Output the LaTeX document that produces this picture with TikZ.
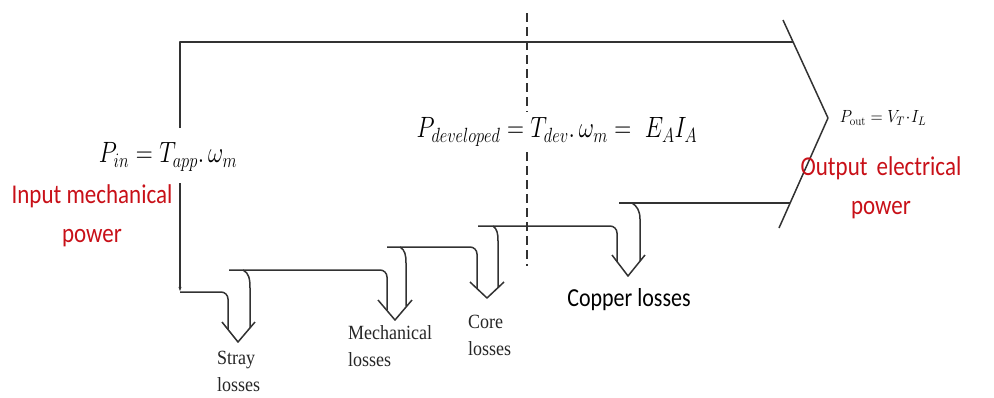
\RequirePackage{fix-cm}
\documentclass[tikz,border=0pt]{standalone}
\usepackage{fontspec}
\newfontfamily\calib{Carlito}
\newfontfamily\tms{Liberation Serif}
\usetikzlibrary{arrows.meta}
\definecolor{redtxt}{RGB}{200,16,24}
\definecolor{ln}{RGB}{50,50,50}
\newcommand{\vst}[2][1.18]{\scalebox{1}[#1]{#2}}
\tikzset{
  flow/.style={draw=ln, line width=1.5pt, line join=round},
  redlbl/.style={text=redtxt, font=\calib\fontsize{23}{39}\selectfont, align=center, inner sep=0pt},
  losslbl/.style={text=black!85, font=\tms\fontsize{18}{27}\selectfont, align=left, inner sep=0pt, anchor=north west},
  eqn/.style={font=\fontsize{23.5}{28}\selectfont, inner sep=0pt}
}
\begin{document}
\begin{tikzpicture}[x=1pt,y=-1pt]
\useasboundingbox (0,0) rectangle (994,397);
% input side and top of band
\draw[flow] (180,128) -- (180,42) -- (793,42);
\draw[flow, -{Stealth[length=4pt,width=3pt]}] (180,183) -- (180,291);
% stray losses
\draw[flow, rounded corners=7pt] (180,292) -- (228,292) -- (228,329);
\draw[flow] (243,270) .. controls (249,273) and (250,279) .. (250,288) -- (250,328);
\draw[flow] (222,322) -- (238,342) -- (255,322);
% mechanical losses
\draw[flow, rounded corners=7pt] (229,270) -- (387,270) -- (387,310);
\draw[flow] (400,247) .. controls (405,250) and (406,255) .. (406,263) -- (406,306);
\draw[flow] (378,300) -- (395,320) -- (412,300);
% core losses
\draw[flow, rounded corners=7pt] (387,247) -- (477,247) -- (477,289);
\draw[flow] (493,226) .. controls (497,229) and (498,233) .. (498,241) -- (498,288);
\draw[flow] (470,282) -- (487,298) -- (504,282);
% copper losses
\draw[flow, rounded corners=7pt] (478,226) -- (617,226) -- (617,262);
\draw[flow] (632,203) .. controls (637,206) and (640,211) .. (640,219) -- (640,261);
\draw[flow] (612,255) -- (628,276) -- (645,255);
% output band and chevron
\draw[flow] (619,203) -- (790,203);
\draw[flow] (783,20) -- (828,118) -- (779,228);
% dashed separator
\draw[draw=ln, line width=1.2pt, dash pattern=on 9pt off 5pt] (527,13) -- (527,112);
\draw[draw=ln, line width=1.2pt, dash pattern=on 9pt off 5pt] (527,152) -- (527,266);
% texts
\node[eqn] (pin) at (168,157) {\vst[1.25]{$P_{in} = T_{app}.\,\omega_m$}};
\node[redlbl] (inlbl) at (92,216) {\vst{Input mechanical}\\\vst{power}};
\node[eqn] (pdev) at (557,132) {\vst[1.25]{$P_{developed} = T_{dev}.\,\omega_m = \ E_A I_A$}};
\node[font=\fontsize{16}{19}\selectfont, inner sep=0pt] (pout) at (883,118) {\vst[1.1]{$P_{\mathrm{out}} = V_T\!\cdot\! I_L$}};
\node[redlbl] (outlbl) at (881,188) {\vst{Output\,\ electrical}\\\vst{power}};
\node[font=\calib\fontsize{22}{26}\selectfont, inner sep=0pt] (cu) at (629,300) {\vst{Copper losses}};
\node[losslbl] (stray) at (217,351) {\vst[1.12]{Stray}\\\vst[1.12]{losses}};
\node[losslbl] (mech) at (348,325) {\vst[1.12]{Mechanical}\\\vst[1.12]{losses}};
\node[losslbl] (core) at (468,315) {\vst[1.12]{Core}\\\vst[1.12]{losses}};
\end{tikzpicture}
\end{document}
